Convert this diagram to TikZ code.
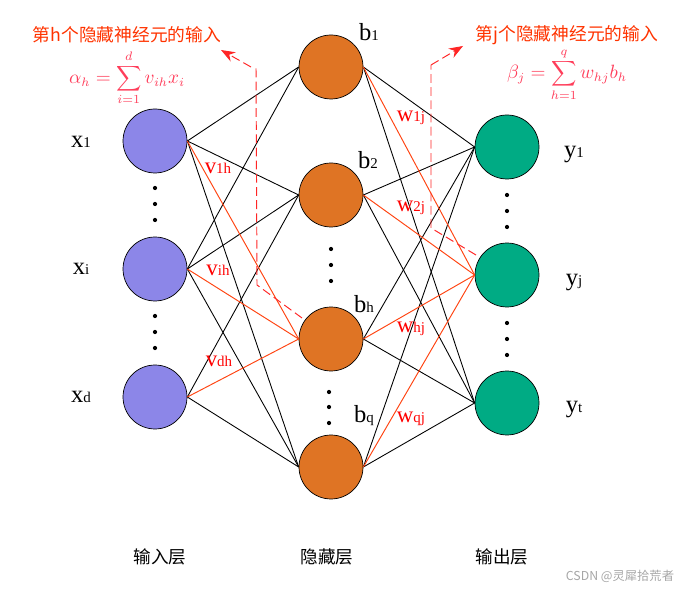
\documentclass[tikz,border=0pt]{standalone}
\usepackage{fontspec}
\setmainfont{Liberation Serif}
\newfontfamily\cjk{Noto Sans CJK SC}
\usetikzlibrary{arrows.meta}
\definecolor{inblue}{HTML}{8C86E8}
\definecolor{hidorange}{HTML}{DF7424}
\definecolor{outgreen}{HTML}{00AB84}
\definecolor{wirered}{HTML}{FF4412}
\definecolor{notered}{HTML}{FF3300}
\definecolor{formred}{HTML}{FF3D5A}
\newcommand{\lblsub}[2]{{\fontsize{14}{14}\selectfont #1}{\fontsize{8.5}{8.5}\selectfont #2}}
\newcommand{\wgtsub}[2]{{\fontsize{13}{13}\selectfont #1}{\fontsize{8.5}{8.5}\selectfont #2}}
\begin{document}
\begin{tikzpicture}[x=0.02cm,y=-0.02cm,
    neuron/.style={circle,draw=black,minimum size=1.28cm,inner sep=0pt},
    wire/.style={black,line width=0.5pt},
    hotwire/.style={wirered,line width=0.55pt},
    guide/.style={red!85!white,line width=0.55pt,dash pattern=on 5pt off 2.5pt},
    vdot/.style={circle,fill=black,inner sep=0pt,minimum size=2.4pt},
    unitlabel/.style={inner sep=0pt},
    weightlabel/.style={inner sep=0pt,red},
    notelabel/.style={inner sep=0pt,notered,font=\cjk\fontsize{10.1}{10}\selectfont},
    formulalabel/.style={inner sep=0pt,formred,font=\fontsize{10.5}{12}\selectfont},
    layerlabel/.style={inner sep=0pt,font=\cjk\fontsize{10}{10}\selectfont}]
        \useasboundingbox (0,0) rectangle (682,590);

        \node[neuron,fill=inblue] (x1) at (155,141) {};
        \node[neuron,fill=inblue] (xi) at (155,269) {};
        \node[neuron,fill=inblue] (xd) at (155,397) {};
        \node[neuron,fill=hidorange] (b1) at (331,67) {};
        \node[neuron,fill=hidorange] (b2) at (331,195) {};
        \node[neuron,fill=hidorange] (bh) at (331,339) {};
        \node[neuron,fill=hidorange] (bq) at (331,467) {};
        \node[neuron,fill=outgreen] (y1) at (507,147) {};
        \node[neuron,fill=outgreen] (yj) at (507,275) {};
        \node[neuron,fill=outgreen] (yt) at (507,403) {};

        \foreach \src/\dst in {x1/b1,x1/b2,x1/bq,xi/b1,xi/b2,xi/bq,xd/b2,xd/bq}
        \draw[wire] (\src.east) -- (\dst.west);
        \foreach \src in {b1,b2,bh,bq}
        \foreach \dst in {y1,yt}
        \draw[wire] (\src.east) -- (\dst.west);

        \foreach \src in {x1,xi,xd}
        \draw[hotwire] (\src.east) -- (bh.west);
        \foreach \src in {b1,b2,bh,bq}
        \draw[hotwire] (\src.east) -- (yj.west);

        \foreach \x/\y in {155/188,155/204,155/220,155/316,155/332,155/348,
            331/249,331/265,331/281,329/392,329/407,329/423,
            507/195,507/211,507/227,507/323,507/339,507/355}
        \node[vdot] at (\x,\y) {};

        % guide lines
        \coordinate (lstart) at (302,318);
        \coordinate (lbend) at (257,285);
        \coordinate (ltop) at (256,68);
        \coordinate (lelbow) at (251,67);
        \coordinate (ltip) at (221,50);
        \coordinate (rstart) at (476,255);
        \coordinate (rbend) at (431,228);
        \coordinate (rtop) at (431,65);
        \coordinate (rtip) at (463,46);
        \draw[guide] (lstart) -- (lbend) -- (ltop);
        \draw[guide,-{Stealth[length=8pt,width=6pt]}] (lelbow) -- (ltip);
        \draw[guide] (rstart) -- (rbend) -- (rtop);
        \draw[guide,-{Stealth[length=8pt,width=6pt]}] (rtop) -- (rtip);

        \node[unitlabel] (lx1) at (81,142) {\lblsub{x}{1}};
        \node[unitlabel] (lxi) at (81,269) {\lblsub{x}{i}};
        \node[unitlabel] (lxd) at (81,397) {\lblsub{x}{d}};
        \node[unitlabel] (lb1) at (369,32) {\lblsub{b}{1}};
        \node[unitlabel] (lb2) at (368,160) {\lblsub{b}{2}};
        \node[unitlabel] (lbh) at (364,304) {\lblsub{b}{h}};
        \node[unitlabel] (lbq) at (364,416) {\lblsub{b}{q}};
        \node[unitlabel] (ly1) at (574,155) {\lblsub{y}{1}};
        \node[unitlabel] (lyj) at (574,283) {\lblsub{y}{j}};
        \node[unitlabel] (lyt) at (574,410) {\lblsub{y}{t}};

        \node[weightlabel] (v1h) at (218,168) {\wgtsub{v}{1h}};
        \node[weightlabel] (vih) at (218,270) {\wgtsub{v}{ih}};
        \node[weightlabel] (vdh) at (219,361) {\wgtsub{v}{dh}};
        \node[weightlabel] (w1j) at (411,118) {\wgtsub{w}{1j}};
        \node[weightlabel] (w2j) at (411,208) {\wgtsub{w}{2j}};
        \node[weightlabel] (whj) at (411,329) {\wgtsub{w}{hj}};
        \node[weightlabel] (wqj) at (411,419) {\wgtsub{w}{qj}};

        \node[notelabel] (noteh) at (127,35) {第h个隐藏神经元的输入};
        \node[notelabel] (notej) at (567,35) {第j个隐藏神经元的输入};
        \node[formulalabel] (alpha) at (127,78) {$\displaystyle\alpha_h=\sum_{i=1}^{d}v_{ih}x_i$};
        \node[formulalabel] (beta) at (567,75) {$\displaystyle\beta_j=\sum_{h=1}^{q}w_{hj}b_h$};

        \node[layerlabel] (linput) at (160,557) {输入层};
        \node[layerlabel] (lhidden) at (327,557) {隐藏层};
        \node[layerlabel] (loutput) at (502,557) {输出层};
        \node[inner sep=0pt,black!35,font=\cjk\fontsize{7}{8}\selectfont] (mark) at (620,576) {CSDN @灵犀拾荒者};
    \end{tikzpicture}
\end{document}
